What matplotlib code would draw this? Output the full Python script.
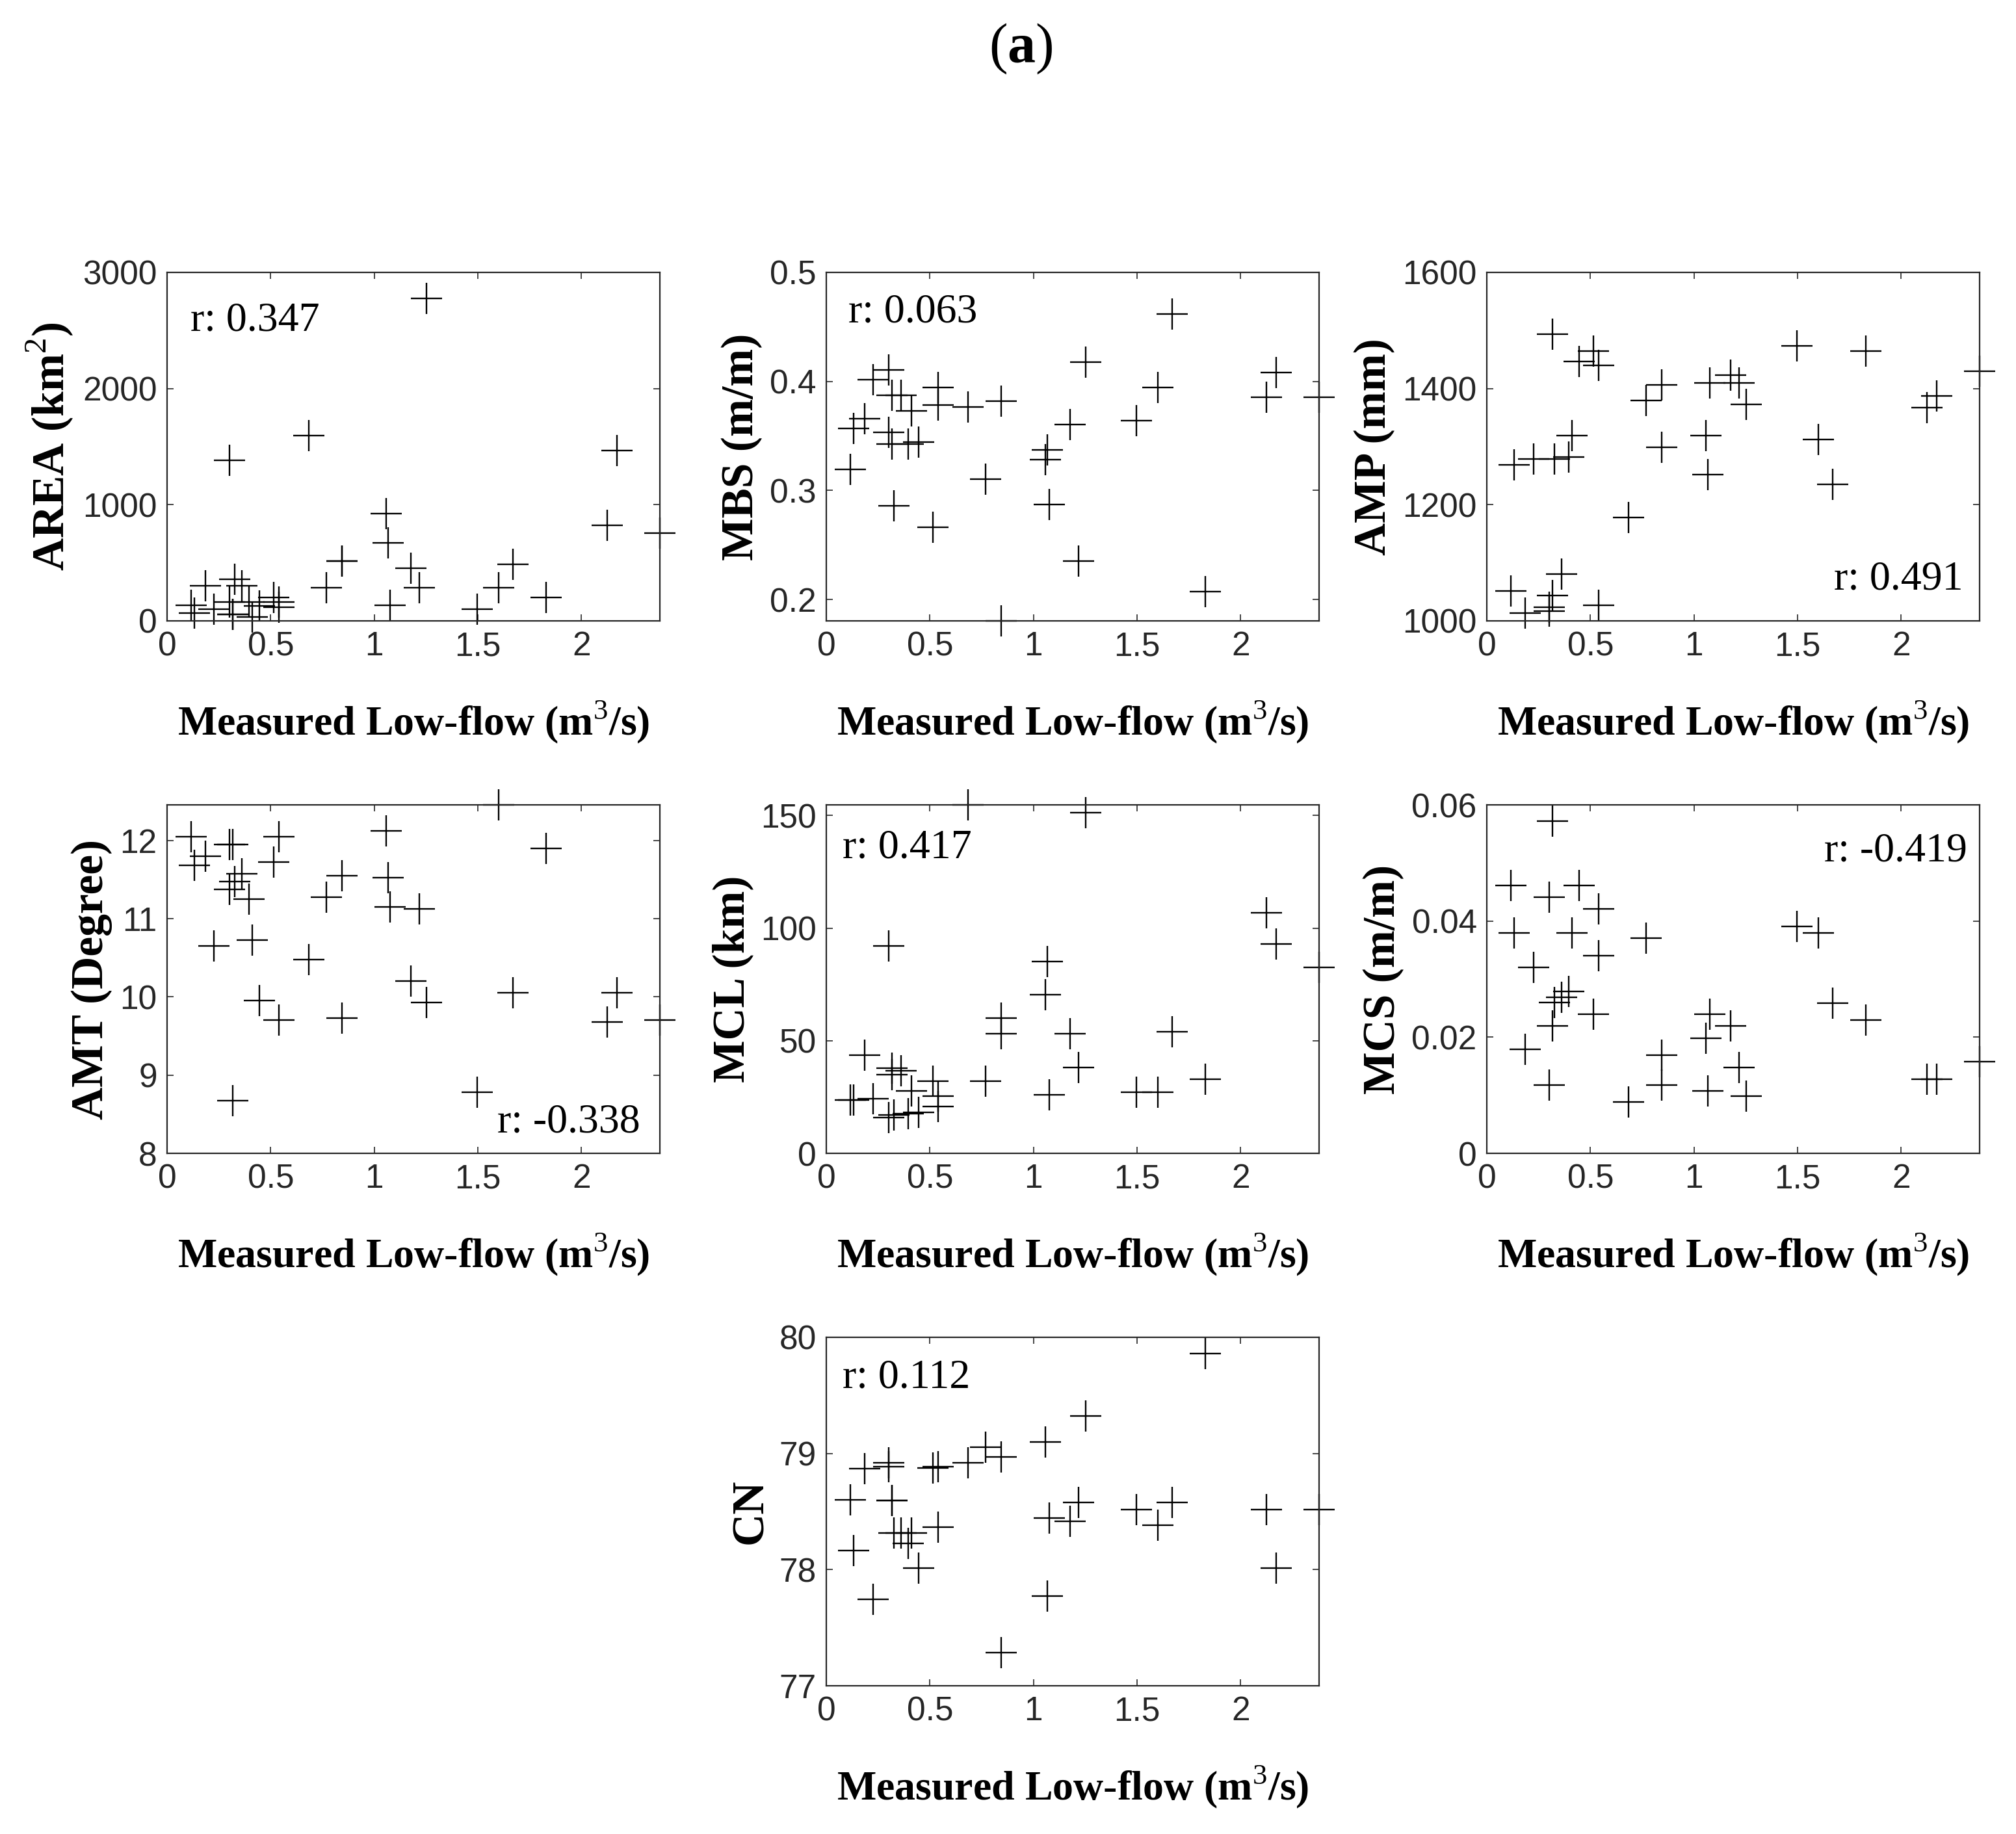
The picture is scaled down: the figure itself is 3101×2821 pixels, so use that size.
import matplotlib
matplotlib.use('Agg')
import matplotlib.pyplot as plt

# Measured low-flow (m3/s) for each station, shared by all panels.
lowflow = [0.115, 0.133, 0.184, 0.225, 0.302, 0.302, 0.318, 0.318, 0.327, 0.361, 0.395,
           0.412, 0.447, 0.514, 0.540, 0.540, 0.684, 0.768, 0.845, 0.845, 1.058, 1.067,
           1.077, 1.176, 1.219, 1.252, 1.498, 1.601, 1.669, 1.831, 2.126, 2.171, 2.379]

# Catchment characteristics.
area = [135, 66, 305, 102, 1381, 164, 56, 56, 357, 305, 164, 35, 130, 201, 160, 120,
        1597, 284, 513, 513, 924, 673, 133, 455, 284, 2776, 102, 284, 488, 201, 824, 1464, 756]
mbs = [0.3194, 0.357, 0.3659, 0.4018, 0.4106, 0.3535, 0.3872, 0.3427, 0.2857, 0.3872, 0.3423,
       0.3731, 0.3445, 0.2661, 0.3943, 0.3784, 0.3764, 0.3106, 0.382, 0.1804, 0.3284, 0.3372,
       0.2872, 0.3604, 0.2355, 0.4176, 0.3641, 0.3945, 0.462, 0.2071, 0.3855, 0.4084, 0.3855]
amp = [1051, 1269, 1013, 1279, 1024, 1017, 1494, 1044, 1279, 1081, 1282, 1319, 1447, 1464,
       1440, 1027, 1178, 1380, 1406, 1299, 1319, 1252, 1410, 1423, 1410, 1373, 1474, 1312,
       1235, 1464, 1367, 1387, 1430]
amt = [12.05, 11.68, 11.796, 10.652, 11.947, 11.377, 11.947, 8.675, 11.479, 11.577, 11.254,
       10.726, 9.952, 11.725, 12.05, 9.705, 10.476, 11.278, 11.55, 9.727, 12.126, 11.525,
       11.155, 10.205, 11.124, 9.927, 8.78, 12.457, 10.051, 11.90, 9.681, 10.051, 9.705]
mcl = [23.6, 23.6, 43.5, 24.3, 92.1, 15.8, 37.8, 34.9, 17.1, 36.6, 17.5, 27.8, 18.3, 32.1,
       25.3, 20.9, 154.7, 32.1, 60.0, 53.1, 70.3, 85.1, 26.1, 53.1, 38.2, 151.1, 27.0, 27.0,
       53.9, 33.0, 106.9, 92.9, 82.5]
mcs = [0.0461, 0.0380, 0.0179, 0.0320, 0.0441, 0.0118, 0.0572, 0.0219, 0.0260, 0.0269, 0.0279,
       0.0380, 0.0461, 0.0239, 0.0421, 0.0340, 0.0088, 0.0370, 0.0169, 0.0118, 0.0198, 0.0108,
       0.0239, 0.0219, 0.0148, 0.0098, 0.0391, 0.0380, 0.0259, 0.0229, 0.0128, 0.0128, 0.0158]
cn = [78.601, 78.162, 78.869, 77.742, 78.92, 78.885, 78.593, 78.593, 78.318, 78.318, 78.228,
      78.318, 78.011, 78.875, 78.885, 78.365, 78.918, 79.053, 78.968, 77.286, 79.10, 77.775,
      78.446, 78.415, 78.581, 79.32, 78.514, 78.38, 78.581, 79.861, 78.514, 78.011, 78.514]

r_labels = ['r: 0.347', 'r: 0.063', 'r: 0.491', 'r: -0.338', 'r: 0.417', 'r: -0.419', 'r: 0.112']
y_labels = ['AREA (km$^\\mathrm{2}$)', 'MBS (m/m)', 'AMP (mm)', 'AMT (Degree)',
            'MCL (km)', 'MCS (m/m)', 'CN']
x_label = 'Measured Low-flow (m$^\\mathrm{3}$/s)'
x_ticks = [0, 0.5, 1, 1.5, 2]
x_ticklabels = ['0', '0.5', '1', '1.5', '2']

# Panel settings: data, y limits, y ticks, y tick labels, text position.
panels = [
    (area, (0, 3000), [0, 1000, 2000, 3000], ['0', '1000', '2000', '3000'], (0.047, 0.915, 'left', 'top')),
    (mbs, (min(mbs), 0.5), [0.2, 0.3, 0.4, 0.5], ['0.2', '0.3', '0.4', '0.5'], (0.045, 0.94, 'left', 'top')),
    (amp, (1000, 1600), [1000, 1200, 1400, 1600], ['1000', '1200', '1400', '1600'], (0.967, 0.09, 'right', 'baseline')),
    (amt, (8, max(amt)), [8, 9, 10, 11, 12], ['8', '9', '10', '11', '12'], (0.96, 0.06, 'right', 'baseline')),
    (mcl, (0, max(mcl)), [0, 50, 100, 150], ['0', '50', '100', '150'], (0.033, 0.93, 'left', 'top')),
    (mcs, (0, 0.06), [0, 0.02, 0.04, 0.06], ['0', '0.02', '0.04', '0.06'], (0.975, 0.92, 'right', 'top')),
    (cn, (77, 80), [77, 78, 79, 80], ['77', '78', '79', '80'], (0.033, 0.937, 'left', 'top')),
]

serif = 'Liberation Serif'
sans = 'Liberation Sans'
edge = '#262626'

# Superscripts and the title letter drawn in the same serif face.
plt.rcParams['mathtext.fontset'] = 'custom'
plt.rcParams['mathtext.rm'] = 'Liberation Serif'
plt.rcParams['mathtext.bf'] = 'Liberation Serif:bold'

W, H = 3101, 2821
fig = plt.figure(figsize=(W / 100, H / 100), dpi=100)
fig.patch.set_facecolor('white')

# Axes boxes in pixels: column lefts and row tops.
col_left = [257, 1271, 2287]
row_top = [419, 1238, 2057]
ax_w, ax_h = 758, 536
slots = [(0, 0), (0, 1), (0, 2), (1, 0), (1, 1), (1, 2), (2, 1)]

for k, (ydata, ylim, yticks, ytl, tpos) in enumerate(panels):
    r, c = slots[k]
    rect = [col_left[c] / W, 1 - (row_top[r] + ax_h) / H, ax_w / W, ax_h / H]
    ax = fig.add_axes(rect)
    ax.plot(lowflow, ydata, linestyle='none', marker='+', markersize=34,
            markeredgewidth=1.7, color='black', clip_on=False)
    ax.set_xlim(0, max(lowflow))
    ax.set_ylim(*ylim)
    ax.set_xticks(x_ticks)
    ax.set_xticklabels(x_ticklabels, fontname=sans, fontsize=37, color=edge)
    ax.set_yticks(yticks)
    ax.set_yticklabels(ytl, fontname=sans, fontsize=37, color=edge)
    ax.tick_params(direction='in', length=7, width=1.2, color=edge, pad=11,
                   top=True, right=True)
    for s in ax.spines.values():
        s.set_color(edge)
        s.set_linewidth(1.6)
    ax.set_xlabel(x_label, fontname=serif, fontweight='bold', fontsize=46, labelpad=40)
    ax.set_ylabel(y_labels[k], fontname=serif, fontweight='bold', fontsize=50, labelpad=8)
    ax.text(tpos[0], tpos[1], r_labels[k], transform=ax.transAxes, ha=tpos[2], va=tpos[3],
            fontname=serif, fontsize=46)

fig.text(1570 / W, 1 - 75 / H, '($\\mathbf{a}$)', ha='center', va='center',
         fontname=serif, fontsize=62)

fig.savefig('out.png', dpi=100, facecolor='white')
